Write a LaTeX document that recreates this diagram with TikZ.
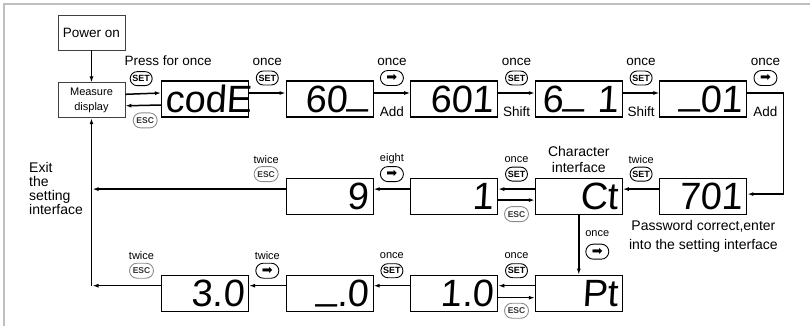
\documentclass[tikz,border=0pt]{standalone}
\usepackage{fontspec}
\setmainfont{Liberation Sans}
\newfontfamily\symfont{DejaVu Sans}
\newfontfamily\lcdfont[FakeSlant=0.06]{Liberation Sans}
\usetikzlibrary{arrows.meta,
positioning,
shapes.misc,
calc}

\newcommand{\segbar}{\raisebox{0.2em}{\_}}

\begin{document}
\begin{tikzpicture}[
    x=1pt, y=1pt,
    >=Latex,
    node distance=36.5pt,
    flow/.style={
        -{Latex[length=6pt,width=4pt]},
        line width=1.5pt
    },
    plainbox/.style={
        draw=black!75,
        line width=0.8pt,
        minimum width=67pt,
        minimum height=35pt,
        inner sep=1pt,
        align=center
    },
    display/.style={
        draw,
        line width=1.1pt,
        text width=79pt,
        inner sep=4pt,
        minimum height=36pt,
        align=right,
        text height=27pt,
        text depth=0pt,
        font=\lcdfont\fontsize{38}{38}\selectfont
    },
    keybase/.style={
        draw,
        rounded rectangle,
        line width=0.9pt,
        inner sep=0pt
    },
    setkey/.style={
        keybase,
        minimum width=22pt,
        minimum height=14pt,
        font=\bfseries\fontsize{9}{9}\selectfont
    },
    esckey/.style={
        keybase,
        minimum width=24pt,
        minimum height=15pt,
        draw=black!45,
        text=black!80,
        font=\bfseries\fontsize{8.5}{8.5}\selectfont
    },
    movekey/.style={
        keybase,
        minimum width=23pt,
        minimum height=15pt,
        font=\symfont\fontsize{13}{13}\selectfont
    },
    note/.style={
        inner sep=0pt,
        font=\fontsize{13.5}{14}\selectfont
    },
    smallnote/.style={
        inner sep=0pt,
        font=\fontsize{11}{12}\selectfont
    }
]

\useasboundingbox (0,0) rectangle (810,-326);
\draw[black!25, line width=1.6pt] (4,-326) -- (4,-4) -- (810,-4);

%------------------------------------------------------------------------------
% Start and password entry
%------------------------------------------------------------------------------

\node[plainbox, font=\fontsize{13.5}{14}\selectfont] (power) at (91.5,-32.5) {Power on};

\node[plainbox, below=32pt of power, font=\fontsize{11}{15}\selectfont] (measure) {Measure\\display};

\node[display] (code) at (205,-99) {codE};
\node[display, right=of code] (disp60) {60\segbar};
\node[display, right=of disp60] (disp601) {601};
\node[display, right=of disp601] (disp6b1) {6\segbar\ 1};
\node[display, right=of disp6b1] (disp01) {\segbar 01};

%------------------------------------------------------------------------------
% Setting interface
%------------------------------------------------------------------------------

\node[display, below=60pt of disp01] (disp701) {701};
\node[display, left=of disp701] (dispCt) {Ct};
\node[display, left=of dispCt] (disp1) {1};
\node[display, left=of disp1] (disp9) {9};

\node[display, below=60pt of dispCt] (dispPt) {Pt};
\node[display, left=of dispPt] (disp10) {1.0};
\node[display, left=of disp10] (disp0) {\segbar.0};
\node[display, left=of disp0] (disp30) {3.0};

\coordinate (exitMid) at ([yshift=7pt]disp9.west -| measure.south);
\coordinate (exitLow) at ([yshift=7.5pt]disp30.west -| measure.south);

%------------------------------------------------------------------------------
% Top row flow
%------------------------------------------------------------------------------

\draw[flow] (power) -- (measure);

\draw[flow]
    ([yshift=6pt]measure.east)
    --
    node[setkey, xshift=-2pt, yshift=15pt] (keyIn) {SET}
    node[note, xshift=25pt, yshift=33pt] (pressLabel) {Press for once}
    ([yshift=6pt]code.west);

\draw[flow]
    ([yshift=-6pt]code.west)
    --
    node[esckey, xshift=2pt, yshift=-15pt] (keyBack) {ESC}
    ([yshift=-5.5pt]measure.east);

\draw[flow]
    ([yshift=6pt]code.east)
    --
    node[setkey, yshift=15pt] (keyA) {SET}
    node[note, yshift=31pt] (noteA) {once}
    ([yshift=6pt]disp60.west);

\draw[flow]
    ([yshift=6pt]disp60.east)
    --
    node[movekey, yshift=15pt] (keyB) {➡}
    node[note, yshift=31pt] (noteB) {once}
    node[note, yshift=-18.5pt] (addB) {Add}
    ([yshift=6pt]disp601.west);

\draw[flow]
    ([yshift=6pt]disp601.east)
    --
    node[setkey, yshift=15pt] (keyC) {SET}
    node[note, yshift=31pt] (noteC) {once}
    node[note, yshift=-18.5pt] (shiftC) {Shift}
    ([yshift=6pt]disp6b1.west);

\draw[flow]
    ([yshift=6pt]disp6b1.east)
    --
    node[setkey, yshift=15pt] (keyD) {SET}
    node[note, yshift=31pt] (noteD) {once}
    node[note, yshift=-18.5pt] (shiftD) {Shift}
    ([yshift=6pt]disp01.west);

\draw[flow]
    ([yshift=6pt]disp01.east)
    --
    node[movekey, yshift=15pt] (keyE) {➡}
    node[note, yshift=31pt] (noteE) {once}
    node[note, yshift=-18.5pt] (addE) {Add}
    ++(36pt,0)
    |-
    ([yshift=2pt]disp701.east);

%------------------------------------------------------------------------------
% Middle row flow
%------------------------------------------------------------------------------

\draw[flow]
    ([yshift=7pt]disp701.west)
    --
    node[setkey, yshift=15pt] (keyF) {SET}
    node[smallnote, yshift=30pt] (noteF) {twice}
    ([yshift=7pt]dispCt.east);

\draw[flow]
    ([yshift=7pt]dispCt.west)
    --
    node[setkey, yshift=15pt] (keyG) {SET}
    node[smallnote, yshift=30pt] (noteG) {once}
    ([yshift=7pt]disp1.east);

\draw[flow]
    ([yshift=-4pt]disp1.east)
    --
    node[esckey, yshift=-14pt] (keyH) {ESC}
    ([yshift=-4pt]dispCt.west);

\draw[flow]
    ([yshift=7pt]disp1.west)
    --
    node[movekey, yshift=15pt] (keyI) {➡}
    node[smallnote, yshift=30pt] (noteI) {eight}
    ([yshift=7pt]disp9.east);

\draw[flow, shorten >=1pt]
    ([yshift=7pt]disp9.west)
    --
    node[pos=0.1, esckey, yshift=15pt] (keyJ) {ESC}
    node[pos=0.1, smallnote, yshift=30pt] (noteJ) {twice}
    (exitMid);

\node[anchor=south, align=center, inner sep=0pt,
      font=\fontsize{14}{16}\selectfont] (charLabel)
    at ([yshift=5pt]dispCt.north) {Character\\interface};

\node[anchor=north, align=center, inner sep=0pt,
      font=\fontsize{14}{19}\selectfont] (passLabel)
    at ([yshift=-6pt]disp701.south)
    {Password correct,enter\\into the setting interface};

%------------------------------------------------------------------------------
% Bottom row flow
%------------------------------------------------------------------------------

\draw[flow]
    (dispCt.south)
    --
    node[movekey, xshift=18.5pt, yshift=-7pt] (keyK) {➡}
    node[smallnote, xshift=18.5pt, yshift=11pt] (noteK) {once}
    (dispPt.north);

\draw[flow]
    ([yshift=7.5pt]dispPt.west)
    --
    node[setkey, yshift=15pt] (keyL) {SET}
    node[smallnote, yshift=30pt] (noteL) {once}
    ([yshift=7.5pt]disp10.east);

\draw[flow]
    ([yshift=-4.5pt]disp10.east)
    --
    node[esckey, yshift=-13pt] (keyM) {ESC}
    ([yshift=-4.5pt]dispPt.west);

\draw[flow]
    ([yshift=7.5pt]disp10.west)
    --
    node[setkey, yshift=15pt] (keyN) {SET}
    node[smallnote, yshift=30pt] (noteN) {once}
    ([yshift=7.5pt]disp0.east);

\draw[flow]
    ([yshift=7.5pt]disp0.west)
    --
    node[movekey, yshift=15pt] (keyO) {➡}
    node[smallnote, yshift=30pt] (noteO) {twice}
    ([yshift=7.5pt]disp30.east);

\draw[flow, shorten >=1pt]
    ([yshift=7.5pt]disp30.west)
    --
    node[pos=0.28, esckey, yshift=15pt] (keyP) {ESC}
    node[pos=0.28, smallnote, yshift=30pt] (noteP) {twice}
    (exitLow);

%------------------------------------------------------------------------------
% Exit back to the measure display
%------------------------------------------------------------------------------

\draw[flow, line cap=rect] (exitLow) -- (measure.south);

\node[anchor=west, align=left, inner sep=0pt,
      font=\fontsize{14}{14.3}\selectfont] (exitLabel)
    at (29,-188.5) {Exit\\the\\setting\\interface};

\end{tikzpicture}
\end{document}
